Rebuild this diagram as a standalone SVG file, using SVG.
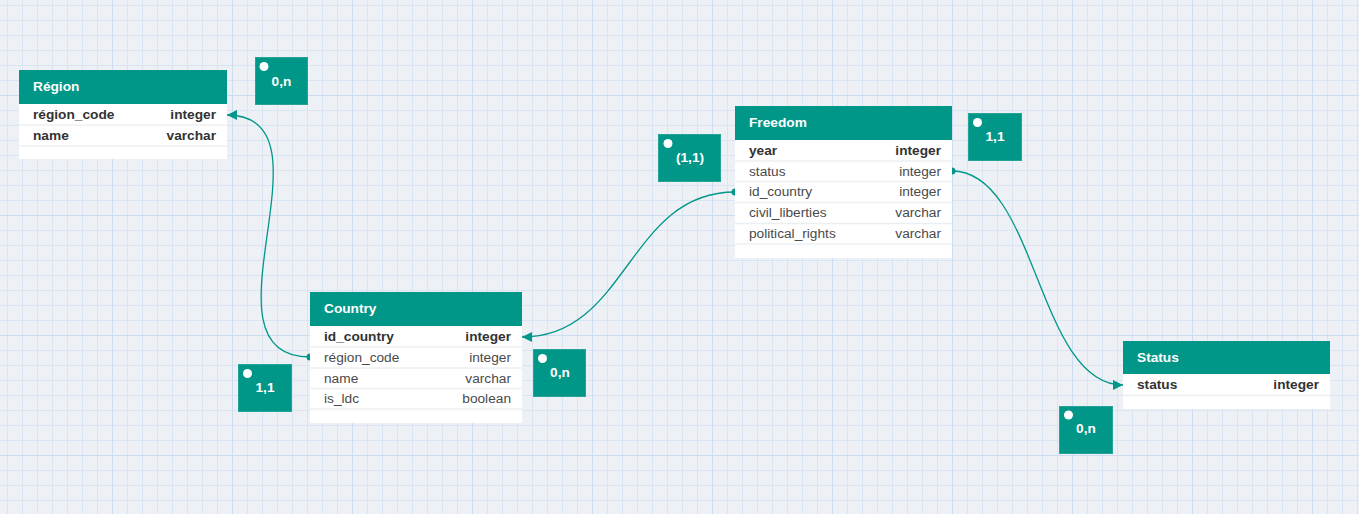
<svg xmlns="http://www.w3.org/2000/svg" width="1359" height="514" viewBox="0 0 1359 514">
<defs>
<pattern id="minor" patternUnits="userSpaceOnUse" x="7" y="5" width="15" height="15">
<path d="M0.5 0V15M0 0.5H15" stroke="#dae5f3" stroke-width="1" fill="none"/>
</pattern>
<pattern id="major" patternUnits="userSpaceOnUse" x="112" y="95" width="120" height="120">
<path d="M0.5 0V120M0 0.5H120" stroke="#cddcf1" stroke-width="1" fill="none"/>
</pattern>
<marker id="arrow" markerUnits="userSpaceOnUse" viewBox="0 0 10 10" refX="10" refY="5" markerWidth="10" markerHeight="10" orient="auto">
<path d="M0 0L10 5L0 10z" fill="#009688"/>
</marker>
<marker id="dot" markerUnits="userSpaceOnUse" viewBox="0 0 8 8" refX="4" refY="4" markerWidth="8" markerHeight="8">
<circle cx="4" cy="4" r="3.5" fill="#009688"/>
</marker>
</defs>
<style>
.hdr{fill:#009688}
.body{fill:#ffffff}
.sep{stroke:#eceff2;stroke-width:1.5}
.title{font-family:"Liberation Sans",Arial,sans-serif;font-size:13.7px;font-weight:bold;fill:#ffffff}
.f{font-family:"Liberation Sans",Arial,sans-serif;font-size:13.7px;fill:#4a4a4a}
.pk{font-weight:bold;fill:#333333}
.t{text-anchor:end}
.lbl{fill:#009688;stroke:#26a397;stroke-width:1}
.ldot{fill:#ffffff}
.ltxt{font-family:"Liberation Sans",Arial,sans-serif;font-size:13.7px;font-weight:bold;fill:#ffffff;text-anchor:middle}
.conn{fill:none;stroke:#009688;stroke-width:1.3;marker-start:url(#dot);marker-end:url(#arrow)}
</style>
<rect width="1359" height="514" fill="#edf1f5"/>
<rect width="1359" height="514" fill="url(#minor)"/>
<rect width="1359" height="514" fill="url(#major)"/>

<g id="connectors">
<path class="conn" d="M310 357C191 357 342 115 227 115"/>
<path class="conn" d="M735 192C628 192 628 337 522 337"/>
<path class="conn" d="M952 171C1037 171 1037 385 1123 385"/>
</g>

<g id="region">
<rect class="body" x="19" y="70" width="208" height="89"/>
<rect class="hdr" x="19" y="70" width="208" height="34"/>
<text class="title" x="33" y="91">Région</text>
<line class="sep" x1="19" y1="125" x2="227" y2="125"/>
<line class="sep" x1="19" y1="146" x2="227" y2="146"/>
<text class="f pk" x="33" y="119">région_code</text>
<text class="f pk t" x="216" y="119">integer</text>
<text class="f pk" x="33" y="140">name</text>
<text class="f pk t" x="216" y="140">varchar</text>
</g>

<g id="country">
<rect class="body" x="310" y="292" width="212" height="131"/>
<rect class="hdr" x="310" y="292" width="212" height="34"/>
<text class="title" x="324" y="313">Country</text>
<line class="sep" x1="310" y1="347" x2="522" y2="347"/>
<line class="sep" x1="310" y1="368" x2="522" y2="368"/>
<line class="sep" x1="310" y1="388.5" x2="522" y2="388.5"/>
<line class="sep" x1="310" y1="409" x2="522" y2="409"/>
<text class="f pk" x="324" y="341">id_country</text>
<text class="f pk t" x="511" y="341">integer</text>
<text class="f" x="324" y="361.5">région_code</text>
<text class="f t" x="511" y="361.5">integer</text>
<text class="f" x="324" y="382.5">name</text>
<text class="f t" x="511" y="382.5">varchar</text>
<text class="f" x="324" y="403">is_ldc</text>
<text class="f t" x="511" y="403">boolean</text>
</g>

<g id="freedom">
<rect class="body" x="735" y="106" width="217" height="152"/>
<rect class="hdr" x="735" y="106" width="217" height="34"/>
<text class="title" x="749" y="127">Freedom</text>
<line class="sep" x1="735" y1="161" x2="952" y2="161"/>
<line class="sep" x1="735" y1="181.5" x2="952" y2="181.5"/>
<line class="sep" x1="735" y1="202.5" x2="952" y2="202.5"/>
<line class="sep" x1="735" y1="223.5" x2="952" y2="223.5"/>
<line class="sep" x1="735" y1="244" x2="952" y2="244"/>
<text class="f pk" x="749" y="155">year</text>
<text class="f pk t" x="941" y="155">integer</text>
<text class="f" x="749" y="175.5">status</text>
<text class="f t" x="941" y="175.5">integer</text>
<text class="f" x="749" y="196">id_country</text>
<text class="f t" x="941" y="196">integer</text>
<text class="f" x="749" y="217">civil_liberties</text>
<text class="f t" x="941" y="217">varchar</text>
<text class="f" x="749" y="238">political_rights</text>
<text class="f t" x="941" y="238">varchar</text>
</g>

<g id="status">
<rect class="body" x="1123" y="341" width="207" height="68"/>
<rect class="hdr" x="1123" y="341" width="207" height="33"/>
<text class="title" x="1137" y="361.5">Status</text>
<line class="sep" x1="1123" y1="395.5" x2="1330" y2="395.5"/>
<text class="f pk" x="1137" y="389">status</text>
<text class="f pk t" x="1319" y="389">integer</text>
</g>

<g id="label-region-0n">
<rect class="lbl" x="255.5" y="57.5" width="52" height="47"/>
<circle class="ldot" cx="264" cy="66.5" r="4.5"/>
<text class="ltxt" x="281.5" y="85.5">0,n</text>
</g>
<g id="label-country-11">
<rect class="lbl" x="238.5" y="364.5" width="53" height="47"/>
<circle class="ldot" cx="247.5" cy="373.5" r="4.5"/>
<text class="ltxt" x="265" y="392">1,1</text>
</g>
<g id="label-country-0n">
<rect class="lbl" x="533.5" y="349.5" width="52" height="47"/>
<circle class="ldot" cx="542.5" cy="358.5" r="4.5"/>
<text class="ltxt" x="560" y="377">0,n</text>
</g>
<g id="label-freedom-11p">
<rect class="lbl" x="658.5" y="134.5" width="62" height="47"/>
<circle class="ldot" cx="668" cy="143.5" r="4.5"/>
<text class="ltxt" x="690" y="162">(1,1)</text>
</g>
<g id="label-freedom-11">
<rect class="lbl" x="968.5" y="113.5" width="53" height="47"/>
<circle class="ldot" cx="977.5" cy="122.5" r="4.5"/>
<text class="ltxt" x="995" y="141">1,1</text>
</g>
<g id="label-status-0n">
<rect class="lbl" x="1059.5" y="406.5" width="53" height="47"/>
<circle class="ldot" cx="1068.5" cy="415" r="4.5"/>
<text class="ltxt" x="1086" y="433">0,n</text>
</g>
</svg>
